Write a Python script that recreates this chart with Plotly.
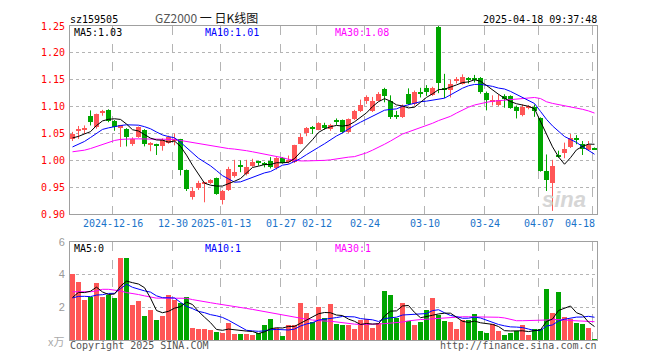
import plotly.graph_objects as go

# ---------------- data ----------------
tick_idx = [7, 17, 25, 35, 41, 49, 59, 69, 78, 87]
tick_text = ["2024-12-16", "12-30", "2025-01-13", "01-27", "02-12",
             "02-24", "03-10", "03-24", "04-07", "04-18"]

opens = [1.039, 1.055, 1.057, 1.082, 1.062, 1.089, 1.094, 1.074, 1.062, 1.059,
         1.030, 1.044, 1.057, 1.030, 1.030, 1.027, 1.033, 1.037, 1.039, 0.983,
         0.932, 0.949, 0.957, 0.958, 0.967, 0.926, 0.945, 0.970, 0.990, 0.974,
         0.990, 0.997, 0.994, 0.998, 0.986, 1.005, 0.997, 0.997, 1.031, 1.051,
         1.062, 1.057, 1.066, 1.059, 1.074, 1.075, 1.053, 1.077, 1.092, 1.111,
         1.092, 1.111, 1.132, 1.111, 1.084, 1.081, 1.124, 1.105, 1.127, 1.134,
         1.122, 1.248, 1.133, 1.131, 1.147, 1.143, 1.152, 1.153, 1.153, 1.126,
         1.110, 1.103, 1.120, 1.120, 1.100, 1.084, 1.099, 1.100, 1.079, 0.981,
         0.957, 1.009, 1.013, 1.025, 1.042, 1.031, 1.020, 1.022]
highs = [1.053, 1.064, 1.065, 1.093, 1.087, 1.094, 1.095, 1.075, 1.066, 1.060,
         1.043, 1.063, 1.058, 1.034, 1.031, 1.041, 1.046, 1.050, 1.040, 0.983,
         0.950, 0.962, 0.960, 0.965, 0.968, 0.945, 0.988, 1.001, 1.000, 1.001,
         1.003, 0.999, 0.997, 1.006, 1.006, 1.006, 1.009, 1.029, 1.050, 1.062,
         1.064, 1.071, 1.070, 1.068, 1.078, 1.076, 1.078, 1.094, 1.113, 1.121,
         1.118, 1.127, 1.135, 1.121, 1.092, 1.104, 1.134, 1.130, 1.135, 1.140,
         1.137, 1.250, 1.161, 1.150, 1.155, 1.160, 1.155, 1.159, 1.155, 1.128,
         1.121, 1.123, 1.123, 1.121, 1.102, 1.104, 1.103, 1.104, 1.080, 1.011,
         1.001, 1.018, 1.033, 1.049, 1.047, 1.036, 1.036, 1.024]
lows = [1.036, 1.040, 1.049, 1.065, 1.059, 1.083, 1.071, 1.055, 1.025, 1.026,
        1.027, 1.042, 1.026, 1.017, 1.010, 1.018, 1.031, 1.028, 0.972, 0.943,
        0.927, 0.945, 0.922, 0.956, 0.936, 0.918, 0.943, 0.968, 0.978, 0.972,
        0.988, 0.990, 0.987, 0.985, 0.983, 0.994, 0.994, 0.995, 1.030, 1.045,
        1.049, 1.056, 1.057, 1.055, 1.066, 1.051, 1.051, 1.075, 1.090, 1.105,
        1.090, 1.110, 1.108, 1.077, 1.077, 1.079, 1.103, 1.102, 1.117, 1.120,
        1.120, 1.125, 1.116, 1.117, 1.143, 1.141, 1.143, 1.145, 1.124, 1.093,
        1.102, 1.101, 1.098, 1.096, 1.078, 1.082, 1.095, 1.081, 0.979, 0.943,
        0.906, 1.005, 1.004, 1.023, 1.030, 1.010, 1.018, 1.020]
closes = [1.049, 1.059, 1.058, 1.071, 1.087, 1.092, 1.074, 1.063, 1.065, 1.044,
          1.039, 1.062, 1.030, 1.032, 1.027, 1.037, 1.044, 1.040, 0.982, 0.946,
          0.943, 0.958, 0.959, 0.963, 0.938, 0.943, 0.984, 0.978, 0.988, 0.987,
          0.997, 0.996, 0.993, 0.988, 1.004, 0.996, 1.001, 1.028, 1.044, 1.060,
          1.059, 1.069, 1.060, 1.065, 1.072, 1.053, 1.077, 1.092, 1.103, 1.117,
          1.111, 1.123, 1.120, 1.080, 1.082, 1.101, 1.105, 1.127, 1.125, 1.128,
          1.134, 1.144, 1.131, 1.142, 1.151, 1.156, 1.150, 1.151, 1.128, 1.112,
          1.112, 1.112, 1.114, 1.097, 1.092, 1.100, 1.100, 1.091, 0.981, 0.964,
          0.990, 1.007, 1.022, 1.042, 1.037, 1.022, 1.028, 1.021]
# closes of the 9 sessions before the window (for MA5 / MA10)
prior_closes = [1.010, 1.005, 0.998, 1.008, 1.020, 1.045, 1.035, 1.050, 1.030]

# 30-day price moving average
ma30_price = [1.016, 1.017, 1.019, 1.022, 1.026, 1.030, 1.034, 1.037, 1.039, 1.040,
              1.040, 1.040, 1.040, 1.040, 1.040, 1.040, 1.040, 1.039, 1.037, 1.035,
              1.033, 1.031, 1.029, 1.027, 1.025, 1.024, 1.022, 1.021, 1.020, 1.018,
              1.016, 1.014, 1.012, 1.010, 1.007, 1.005, 1.002, 1.000, 0.999, 0.999,
              0.999, 0.999, 1.000, 1.001, 1.003, 1.004, 1.006, 1.007, 1.010, 1.014,
              1.019, 1.024, 1.030, 1.036, 1.043, 1.049, 1.053, 1.057, 1.060, 1.064,
              1.069, 1.074, 1.078, 1.082, 1.088, 1.094, 1.099, 1.103, 1.106, 1.108,
              1.110, 1.111, 1.112, 1.113, 1.115, 1.116, 1.117, 1.117, 1.115, 1.109,
              1.106, 1.104, 1.102, 1.100, 1.098, 1.095, 1.092, 1.088]

volumes = [4.07, 3.57, 2.43, 2.61, 3.47, 2.61, 2.79, 2.57, 5.02, 5.02,
           2.13, 2.37, 1.46, 1.83, 1.22, 1.46, 2.79, 2.43, 2.29, 2.61,
           0.72, 0.68, 0.68, 0.62, 0.52, 0.46, 1.06, 0.40, 0.40, 0.40,
           0.34, 0.44, 0.92, 1.32, 0.72, 0.26, 0.92, 0.95, 2.27, 1.68,
           1.10, 2.02, 1.34, 2.19, 0.98, 0.95, 0.92, 0.68, 1.22, 1.28,
           0.76, 1.02, 3.03, 2.73, 1.36, 2.27, 1.16, 0.92, 1.10, 1.83,
           2.55, 1.56, 1.16, 1.10, 0.68, 1.22, 1.22, 1.58, 0.56, 0.46,
           0.96, 0.56, 0.32, 0.46, 0.56, 0.92, 0.32, 0.66, 0.66, 3.11,
           1.67, 2.92, 1.43, 1.27, 1.04, 0.98, 0.74, 0.08]
prior_volumes = [2.6, 2.4, 2.8, 2.5, 2.4, 2.0, 2.5, 2.2, 2.23]

ma30_vol = [2.95, 2.95, 2.95, 2.95, 3.00, 3.10, 3.10, 3.05, 3.00, 2.90,
            2.85, 2.78, 2.70, 2.62, 2.56, 2.56, 2.56, 2.56, 2.56, 2.55,
            2.47, 2.42, 2.35, 2.28, 2.22, 2.17, 2.10, 2.05, 2.00, 1.93,
            1.87, 1.80, 1.72, 1.65, 1.60, 1.53, 1.47, 1.40, 1.33, 1.27,
            1.22, 1.17, 1.16, 1.15, 1.10, 1.05, 1.00, 0.97, 0.95, 0.95,
            0.96, 0.98, 1.00, 1.03, 1.05, 1.10, 1.17, 1.23, 1.25, 1.27,
            1.30, 1.32, 1.34, 1.37, 1.40, 1.42, 1.42, 1.42, 1.42, 1.41,
            1.40, 1.39, 1.35, 1.25, 1.18, 1.18, 1.18, 1.18, 1.20, 1.22,
            1.25, 1.25, 1.23, 1.19, 1.18, 1.16, 1.14, 1.12]

# ---------------- helpers ----------------
def moving_avg(prior, vals, k):
    full = prior + vals
    off = len(prior)
    return [sum(full[off + i - k + 1: off + i + 1]) / k for i in range(len(vals))]

n = len(closes)
xs = list(range(n))
RED = "#ff5656"
GREEN = "#00a600"
up = [c >= o for o, c in zip(opens, closes)]
cols = [RED if u else GREEN for u in up]

ma5 = moving_avg(prior_closes, closes, 5)
ma10 = moving_avg(prior_closes, closes, 10)
vma5 = moving_avg(prior_volumes, volumes, 5)
vma10 = moving_avg(prior_volumes, volumes, 10)

fig = go.Figure()

# wicks
for flag, col in ((True, RED), (False, GREEN)):
    wx, wy = [], []
    for i in range(n):
        if up[i] == flag:
            wx += [i, i, None]
            wy += [lows[i], highs[i], None]
    fig.add_trace(go.Scatter(x=wx, y=wy, mode="lines", line=dict(color=col, width=1),
                             hoverinfo="skip", showlegend=False, xaxis="x", yaxis="y"))

# bodies
base = [min(o, c) for o, c in zip(opens, closes)]
height = [max(abs(c - o), 0.0019) for o, c in zip(opens, closes)]
fig.add_trace(go.Bar(x=xs, y=height, base=base, width=0.83, marker=dict(color=cols, line=dict(width=0)),
                     showlegend=False, hoverinfo="skip", xaxis="x", yaxis="y"))

for series, col in ((ma30_price, "#ff00ff"), (ma10, "#0000ff"), (ma5, "#000000")):
    fig.add_trace(go.Scatter(x=xs, y=series, mode="lines", line=dict(color=col, width=1),
                             showlegend=False, hoverinfo="skip", xaxis="x", yaxis="y"))

# volume
fig.add_trace(go.Bar(x=xs, y=volumes, width=0.83, marker=dict(color=cols, line=dict(width=0)),
                     showlegend=False, hoverinfo="skip", xaxis="x2", yaxis="y2"))
for series, col in ((ma30_vol, "#ff00ff"), (vma10, "#0000ff"), (vma5, "#000000")):
    fig.add_trace(go.Scatter(x=xs, y=series, mode="lines", line=dict(color=col, width=1),
                             showlegend=False, hoverinfo="skip", xaxis="x2", yaxis="y2"))

XR = [-0.4167, 87.4167]
grid_x = [i - 1 / 3 for i in tick_idx]
FRAME = "#a0a0a0"
GRID = "#b4b4b4"
MONO = "DejaVu Sans Mono"

common_x = dict(range=XR, showline=True, mirror=True, linecolor=FRAME, linewidth=1,
                tickmode="array", tickvals=grid_x, showticklabels=False, ticks="",
                showgrid=True, gridcolor=GRID, griddash="dash", gridwidth=1, zeroline=False,
                fixedrange=True)

# the page body adds an 8px offset, so the figure is 8px smaller and margins shifted
fig.update_layout(
    width=652, height=352,
    margin=dict(l=62, r=63, t=12, b=20),
    paper_bgcolor="white", plot_bgcolor="white",
    barmode="overlay", bargap=0, hovermode=False,
    xaxis=dict(domain=[0, 1], anchor="y", **common_x),
    xaxis2=dict(domain=[0, 1], anchor="y2", **common_x),
    yaxis=dict(domain=[0.4009, 1.0], anchor="x", range=[0.90, 1.25],
               tickmode="array", tickvals=[0.90, 0.95, 1.00, 1.05, 1.10, 1.15, 1.20, 1.25],
               ticktext=["0.90", "0.95", "1.00", "1.05", "1.10", "1.15", "1.20", "1.25"],
               tickfont=dict(family=MONO, size=10, color="#ff0000"),
               ticks="outside", ticklen=2, tickcolor="rgba(0,0,0,0)",
               showline=True, mirror=True, linecolor=FRAME, linewidth=1,
               showgrid=True, gridcolor=GRID, griddash="dot", zeroline=False, fixedrange=True),
    yaxis2=dict(domain=[0, 0.3125], anchor="x2", range=[0, 6],
                tickmode="array", tickvals=[2, 4, 6], ticktext=["2", "4", "6"],
                tickfont=dict(family="Liberation Sans", size=11, color="#999999"),
                ticks="outside", ticklen=2, tickcolor="rgba(0,0,0,0)",
                showline=True, mirror=True, linecolor=FRAME, linewidth=1,
                showgrid=True, gridcolor=GRID, griddash="dot", zeroline=False, fixedrange=True),
)

# helpers in screen pixels (plot area spans x 70..597, y 20..340 on screen)
def px(xp):
    return (xp - 70) / 527.0

def py(yp):
    return (340 - yp) / 320.0

def note(text, xp, yp, color="#000000", size=10, family=MONO, xanchor="left", **kw):
    fig.add_annotation(text=text, x=px(xp), y=py(yp), xref="paper", yref="paper",
                       xanchor=xanchor, yanchor="middle", showarrow=False, borderpad=0,
                       font=dict(family=family, size=size, color=color), **kw)

# header
note("sz159505", 69, 13)
note("<span style='color:#555555'>GZ2000</span> 一 日K线图", 206, 11.5,
     size=12, family="Noto Sans CJK SC", xanchor="center", color="#111111")
note("2025-04-18 09:37:48", 598, 13, xanchor="right")

# MA legends
note("MA5:1.03", 73, 26.5)
note("MA10:1.01", 204, 26.5, color="#0000ff")
note("MA30:1.08", 334, 26.5, color="#ff00ff")
note("MA5:0", 73, 246.5)
note("MA10:1", 204, 246.5, color="#0000ff")
note("MA30:1", 334, 246.5, color="#ff00ff")

# date labels
for i, lab in zip(tick_idx, tick_text):
    xg = 70 + (i - 1 / 3 - XR[0]) * 6.0 + 0.5
    if lab == "04-18":
        note(lab, 596, 221, color="#1a73c9", xanchor="right")
    else:
        note(lab, xg, 221, color="#1a73c9", xanchor="center")

# footer
note("Copyright 2025 SINA.COM", 69, 346, color="#555555")
note("http://finance.sina.com.cn", 598, 346, color="#555555", xanchor="right")
note("x万", 56, 341, color="#aaaaaa", size=11, family="Noto Sans CJK SC", xanchor="center")

# watermark
note("<b><i>sina</i></b>", 564, 197, color="#d6d6d6", size=22, family="Liberation Sans",
     xanchor="center")

fig.write_html("out.html")
